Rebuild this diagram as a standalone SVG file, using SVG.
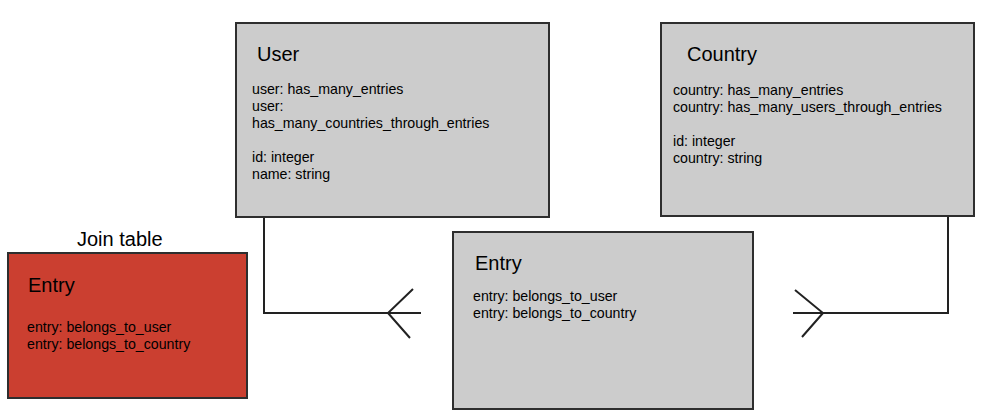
<svg xmlns="http://www.w3.org/2000/svg" width="984" height="420" viewBox="0 0 984 420">
<style>
.box{fill:#cccccc;stroke:#2e2e2e;stroke-width:2}
.red{fill:#cb3f30;stroke:#2e2e2e;stroke-width:2}
.t{font-family:"Liberation Sans",Arial,sans-serif;font-size:20px;fill:#000}
.b{font-family:"Liberation Sans",Arial,sans-serif;font-size:14.2px;fill:#000}
.c{fill:none;stroke:#222;stroke-width:2}
</style>
<rect width="984" height="420" fill="#ffffff"/>
<g id="connectors">
<path class="c" d="M264 217 V313 H421"/>
<path class="c" d="M413 289 L388 313 L410 338"/>
<path class="c" d="M948 216 V313 H793"/>
<path class="c" d="M795 290 L823 313 L802 337"/>
</g>
<g id="user">
<rect class="box" x="236" y="23" width="313" height="194"/>
<text class="t" x="257" y="61">User</text>
<text class="b" x="252" y="94">user: has_many_entries</text>
<text class="b" x="252" y="111">user:</text>
<text class="b" x="252" y="128">has_many_countries_through_entries</text>
<text class="b" x="252" y="162">id: integer</text>
<text class="b" x="252" y="179">name: string</text>
</g>
<g id="country">
<rect class="box" x="661" y="23" width="313" height="193"/>
<text class="t" x="687" y="61">Country</text>
<text class="b" x="673" y="95">country: has_many_entries</text>
<text class="b" x="673" y="112">country: has_many_users_through_entries</text>
<text class="b" x="673" y="146">id: integer</text>
<text class="b" x="673" y="163">country: string</text>
</g>
<g id="join-entry">
<text class="t" x="77" y="246">Join table</text>
<rect class="red" x="8" y="253" width="239" height="145"/>
<text class="t" x="28" y="292">Entry</text>
<text class="b" x="27" y="332">entry: belongs_to_user</text>
<text class="b" x="27" y="349">entry: belongs_to_country</text>
</g>
<g id="entry">
<rect class="box" x="453" y="232" width="300" height="177"/>
<text class="t" x="475" y="270">Entry</text>
<text class="b" x="473" y="301">entry: belongs_to_user</text>
<text class="b" x="473" y="318">entry: belongs_to_country</text>
</g>
</svg>
